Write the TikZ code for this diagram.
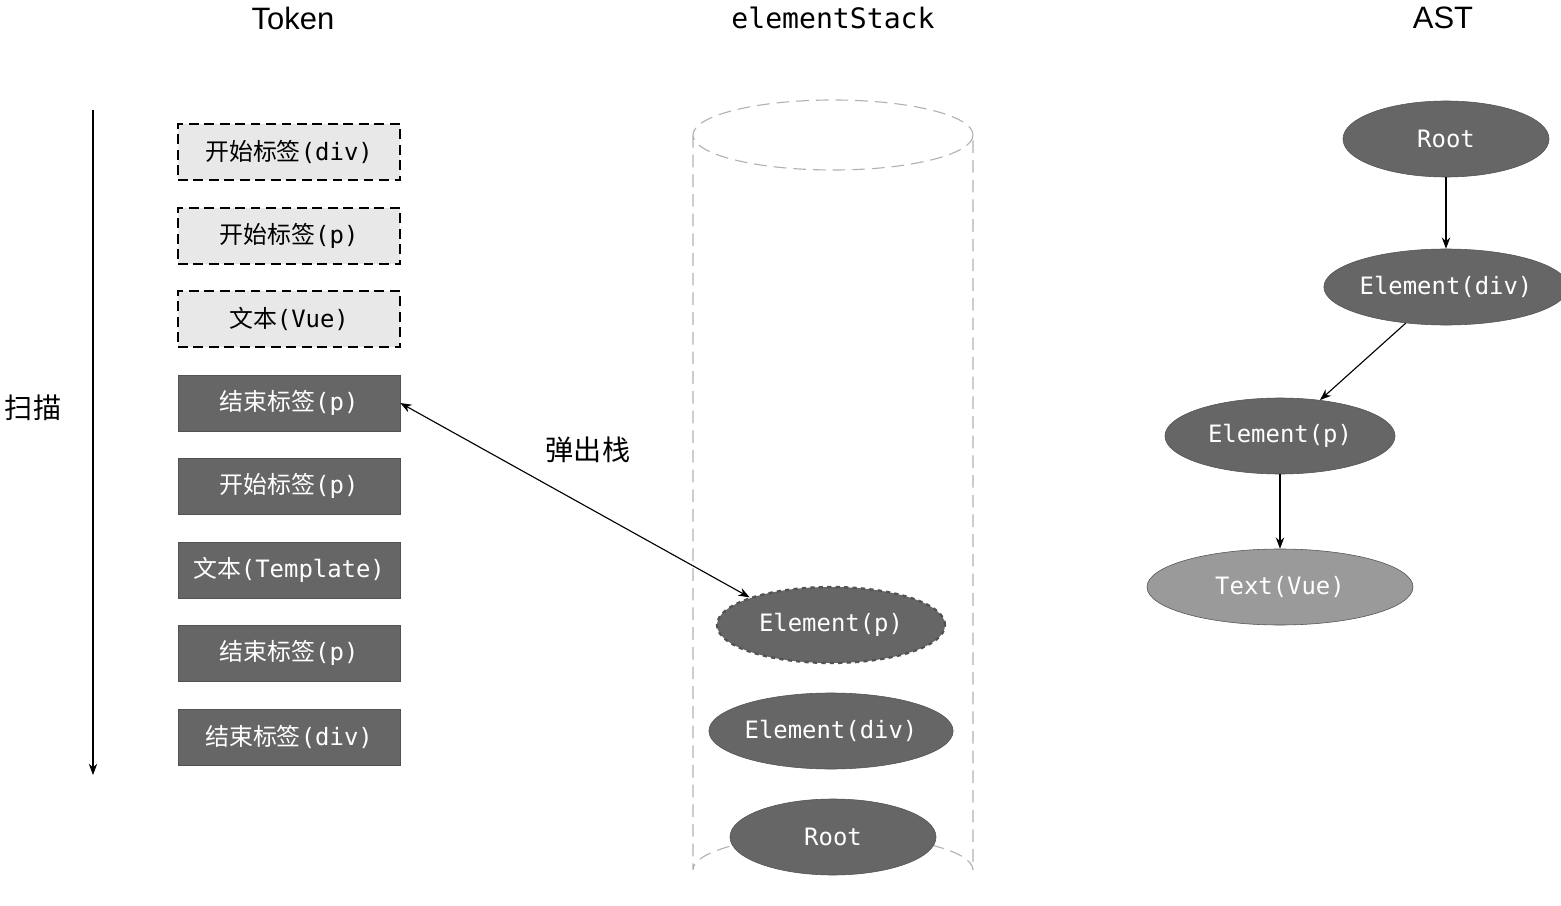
\documentclass[tikz,border=0pt]{standalone}
\usepackage{fontspec}
\setmainfont{Liberation Sans}
\newfontfamily\cjk{Noto Sans CJK SC}
\newfontfamily\codefont{DejaVu Sans Mono}
\usetikzlibrary{shapes.geometric,arrows.meta}
\definecolor{nodegray}{HTML}{666666}
\definecolor{lightgray}{HTML}{E8E8E8}
\definecolor{textgray}{HTML}{9A9A9A}
\tikzset{
  tok/.style={draw=nodegray!80!black, fill=nodegray, text=white, minimum width=5.55cm, minimum height=1.4cm, font=\fontsize{17}{17}\selectfont\cjk, inner sep=0pt},
  tokdone/.style={tok, draw=black, fill=lightgray, text=black, line width=1.6pt, dash pattern=on 7pt off 4pt},
  elem/.style={ellipse, draw=nodegray!80!black, fill=nodegray, text=white, minimum height=1.9cm, inner sep=0pt, font=\fontsize{17}{17}\selectfont\codefont},
  title/.style={font=\fontsize{22}{22}\selectfont},
  link/.style={-{Stealth[length=8pt,width=6pt]}, thick},
}
\begin{document}
\begin{tikzpicture}[x=0.025cm, y=-0.025cm]
  \useasboundingbox (0,0) rectangle (1561,906);
  % titles
  \node[title] (ttok) at (293,18) {Token};
  \node[title, font=\fontsize{20}{20}\selectfont\codefont] (tstack) at (833,18) {elementStack};
  \node[title] (tast) at (1443,18) {AST};

  % scan direction
  \coordinate (scanA) at (93,110);
  \coordinate (scanB) at (93,775);
  \draw[link] (scanA) -- (scanB);
  \node[font=\fontsize{20}{20}\selectfont\cjk] (scan) at (33,408) {扫描};

  % tokens
  \node[tokdone] (t1) at (289,152) {开始标签{\codefont(div)}};
  \node[tokdone] (t2) at (289,236) {开始标签{\codefont(p)}};
  \node[tokdone] (t3) at (289,319) {文本{\codefont(Vue)}};
  \node[tok] (t4) at (289,403) {结束标签{\codefont(p)}};
  \node[tok] (t5) at (289,486) {开始标签{\codefont(p)}};
  \node[tok] (t6) at (289,570) {文本{\codefont(Template)}};
  \node[tok] (t7) at (289,653) {结束标签{\codefont(p)}};
  \node[tok] (t8) at (289,737) {结束标签{\codefont(div)}};

  % stack cylinder
  \draw[gray!60, thick, dash pattern=on 9pt off 5pt]
    (833,135) ellipse (140 and 35)
    (693,135) -- (693,870) arc (180:360:140 and 35) -- (973,135);
  \node[elem, minimum width=5.7cm, dashed, line width=1.6pt] (sp) at (831,625) {Element(p)};
  \node[elem, minimum width=5.7cm] (sdiv) at (831,731) {Element(div)};
  \node[elem, minimum width=5.15cm] (sroot) at (833,837) {Root};

  % pop
  \draw[{Stealth[length=8pt,width=6pt]}-{Stealth[length=8pt,width=6pt]}, thick] (t4.east) -- (sp.north west);
  \node[font=\fontsize{20}{20}\selectfont\cjk] (pop) at (588,450) {弹出栈};

  % AST
  \node[elem, minimum width=5.15cm] (aroot) at (1446,139) {Root};
  \node[elem, minimum width=5.75cm] (adiv) at (1446,287) {Element(div)};
  \node[elem, minimum width=5.75cm] (ap) at (1280,436) {Element(p)};
  \node[elem, minimum width=6.65cm, fill=textgray] (atext) at (1280,587) {Text(Vue)};
  \draw[link] (aroot) -- (adiv);
  \draw[link] (adiv) -- (ap);
  \draw[link] (ap) -- (atext);
\end{tikzpicture}
\end{document}
